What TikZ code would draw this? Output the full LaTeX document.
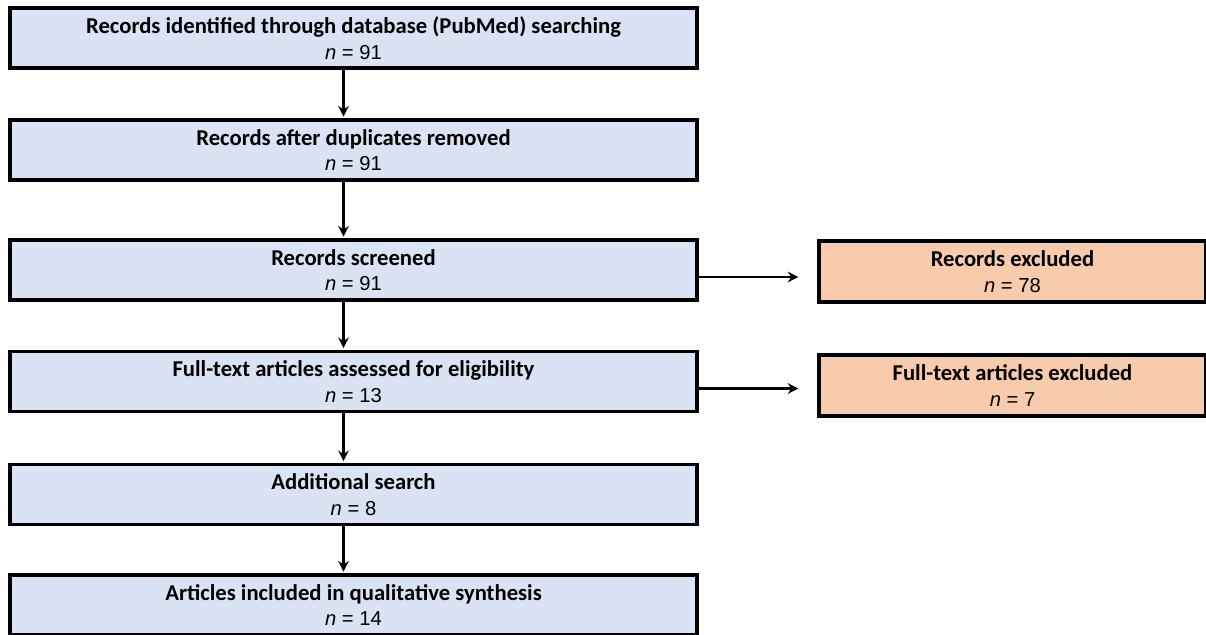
\documentclass[tikz,border=0pt]{standalone}
\usepackage{fontspec}
\setmainfont{Carlito}
\newfontfamily\numfont{Liberation Sans}
\usepackage{tikz}
\usetikzlibrary{arrows.meta,positioning}
\definecolor{stageblue}{RGB}{218,227,243}
\definecolor{exclorange}{RGB}{248,203,173}
\newcommand{\cnt}[1]{{\numfont\mdseries\fontsize{11.5}{14}\selectfont\itshape n\/\upshape{} = #1}}
\tikzset{
  stagebox/.style={draw=black,line width=1.8pt,fill=stageblue,minimum width=13.74cm,minimum height=1.2cm,
    align=center,inner sep=0pt,font=\fontsize{12.9}{14.5}\selectfont\bfseries},
  exclbox/.style={stagebox,fill=exclorange,minimum width=7.74cm,minimum height=1.22cm},
  flow/.style={-{Stealth[length=6pt,width=6pt]},line width=1.5pt}
}
\begin{document}
\begin{tikzpicture}
  \useasboundingbox (0,0) rectangle (24.12,-12.7);
  \node[stagebox] (ident) at (7.07,-0.76) {Records identified through database (PubMed) searching\\\cnt{91}};
  \node[stagebox] (dedup) at (7.07,-3.0) {Records after duplicates removed\\\cnt{91}};
  \node[stagebox] (screen) at (7.07,-5.4) {Records screened\\\cnt{91}};
  \node[stagebox] (fulltext) at (7.07,-7.63) {Full-text articles assessed for eligibility\\\cnt{13}};
  \node[stagebox] (addsearch) at (7.07,-9.89) {Additional search\\\cnt{8}};
  \node[stagebox] (included) at (7.07,-12.1) {Articles included in qualitative synthesis\\\cnt{14}};
  \node[exclbox] (recexcl) at (20.25,-5.43) {Records excluded\\\cnt{78}};
  \node[exclbox] (ftexcl) at (20.25,-7.71) {Full-text articles excluded\\\cnt{7}};
  % main flow
  \foreach \a/\b in {ident/dedup,dedup/screen,screen/fulltext,fulltext/addsearch,addsearch/included}
    \draw[flow,shorten >=1pt] ([xshift=-0.2cm]\a.south) -- ([xshift=-0.2cm]\b.north);
  % exclusions
  \draw[flow,shorten >=0.38cm] ([yshift=-0.14cm]screen.east) -- ([yshift=-0.14cm]screen.east -| recexcl.west);
  \draw[flow,shorten >=0.38cm] ([yshift=-0.14cm]fulltext.east) -- ([yshift=-0.14cm]fulltext.east -| ftexcl.west);
\end{tikzpicture}
\end{document}
